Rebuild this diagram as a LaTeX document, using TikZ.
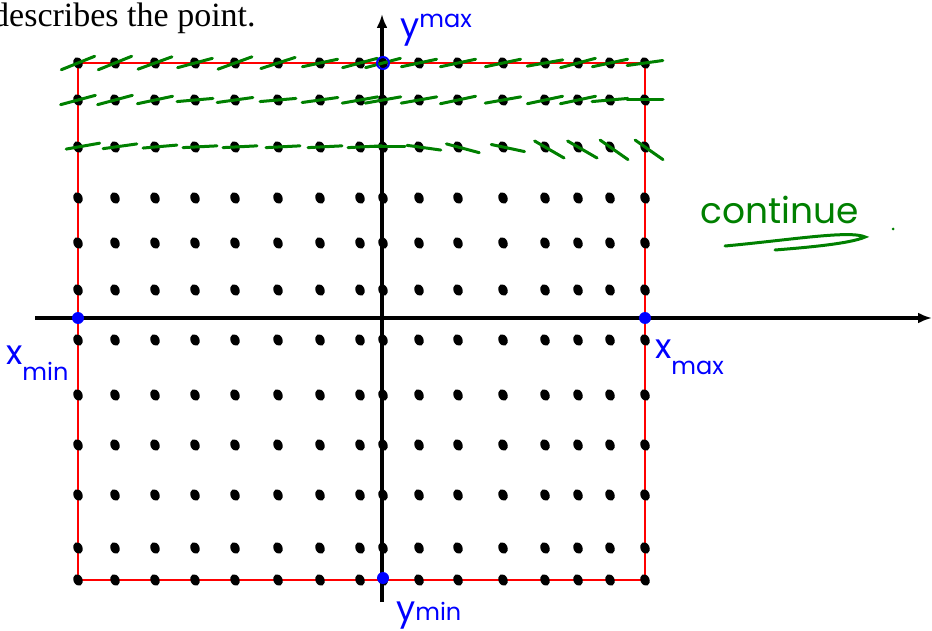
\documentclass[tikz,border=0pt]{standalone}
\usepackage{fontspec}
\setmainfont{Liberation Serif}
\newfontfamily\handfont{Poppins}
\usetikzlibrary{arrows.meta, shapes.geometric}

\tikzset{
  axis/.style={line width=4pt, -{Latex[length=14pt,width=11pt]}},
  frame/.style={red, line width=2pt},
  gridpt/.style={ellipse, fill=black, inner sep=0pt, minimum width=9pt, minimum height=12pt, rotate=25},
  bluept/.style={circle, fill=blue, inner sep=0pt, minimum size=12pt},
  slope/.style={green!50!black, line width=3pt, line cap=round},
  handlbl/.style={text=blue, font=\handfont\fontsize{34}{34}\selectfont, inner sep=0pt}
}

\begin{document}
\begin{tikzpicture}[x=1pt, y=-1pt]
  \useasboundingbox (0,0) rectangle (932,631);

  % caption line cut at the left edge
  \begin{scope}
    \clip (0,0) rectangle (932,631);
    \node (caption) [anchor=base west, inner sep=0pt, font=\fontsize{34}{40}\selectfont] at (-8,27) {describes the point.};
  \end{scope}

  % window of the plot
  \coordinate (nw) at (78,63);
  \coordinate (se) at (645,580);
  \draw [frame] (nw) rectangle (se);

  % axes
  \coordinate (xstart) at (35,318);
  \coordinate (xend) at (932,318);
  \coordinate (ystart) at (382,602);
  \coordinate (yend) at (382,14);
  \draw [axis] (xstart) -- (xend);
  \draw [axis] (ystart) -- (yend);

  % grid of sample points
  \foreach \yy in {63,100,147,198,243,290,340,395,445,495,548,580}
    \foreach \xx in {78,115,155,195,235,278,320,360,383,419,458,503,545,578,610,645}
      \node [gridpt] at (\xx,\yy) {};

  % slope marks, first three rows
  \foreach \xx/\a in {78/22,115/22,155/20,195/15,235/20,278/18,320/12,360/15,383/15,419/12,458/12,503/12,545/10,578/15,610/12,645/8}
    \draw [slope] ([shift={(-\a:-18)}]\xx,63) -- ([shift={(-\a:18)}]\xx,63);
  \foreach \xx/\a in {78/15,115/15,155/12,195/5,235/8,278/5,320/8,360/10,383/10,419/10,458/12,503/10,545/12,578/12,610/5,645/0}
    \draw [slope] ([shift={(-\a:-18)}]\xx,100) -- ([shift={(-\a:18)}]\xx,100);
  \foreach \xx/\a in {78/10,115/8,155/5,195/3,235/3,278/3,320/3,360/3,383/0,419/-8,458/-15,503/-12,545/-30,578/-30,610/-35,645/-35}
    \draw [slope] ([shift={(-\a:-12)}]\xx,147) -- ([shift={(-\a:22)}]\xx,147);

  % end points of the window
  \node (ymaxpt) [circle, draw=blue, line width=2pt, minimum size=12pt, inner sep=0pt] at (383,63) {};
  \node (xminpt) [bluept] at (78,318) {};
  \node (xmaxpt) [bluept] at (645,318) {};
  \node (yminpt) [bluept] at (383,578) {};

  % labels
  \node (ymaxlbl) [handlbl, anchor=base west] at (400,38) {y\raisebox{0.55ex}{\fontsize{24}{24}\selectfont max}};
  \node (xminlbl) [handlbl, anchor=base west] at (6,364) {x\raisebox{-0.9ex}{\fontsize{24}{24}\selectfont min}};
  \node (xmaxlbl) [handlbl, anchor=base west] at (655,358) {x\raisebox{-0.9ex}{\fontsize{24}{24}\selectfont max}};
  \node (yminlbl) [handlbl, anchor=base west] at (396,620) {y\fontsize{24}{24}\selectfont min};

  % note to the right
  \node (contlbl) [anchor=base west, inner sep=0pt, text=green!50!black, font=\handfont\fontsize{36}{36}\selectfont] at (700,224) {continue};
  \draw [slope] (725,246) .. controls (790,240) and (850,230) .. (865,237)
                          .. controls (850,244) and (800,248) .. (775,250);
  \node (contdot) [circle, fill=green!50!black, inner sep=0pt, minimum size=3pt] at (893,229) {};
\end{tikzpicture}
\end{document}
